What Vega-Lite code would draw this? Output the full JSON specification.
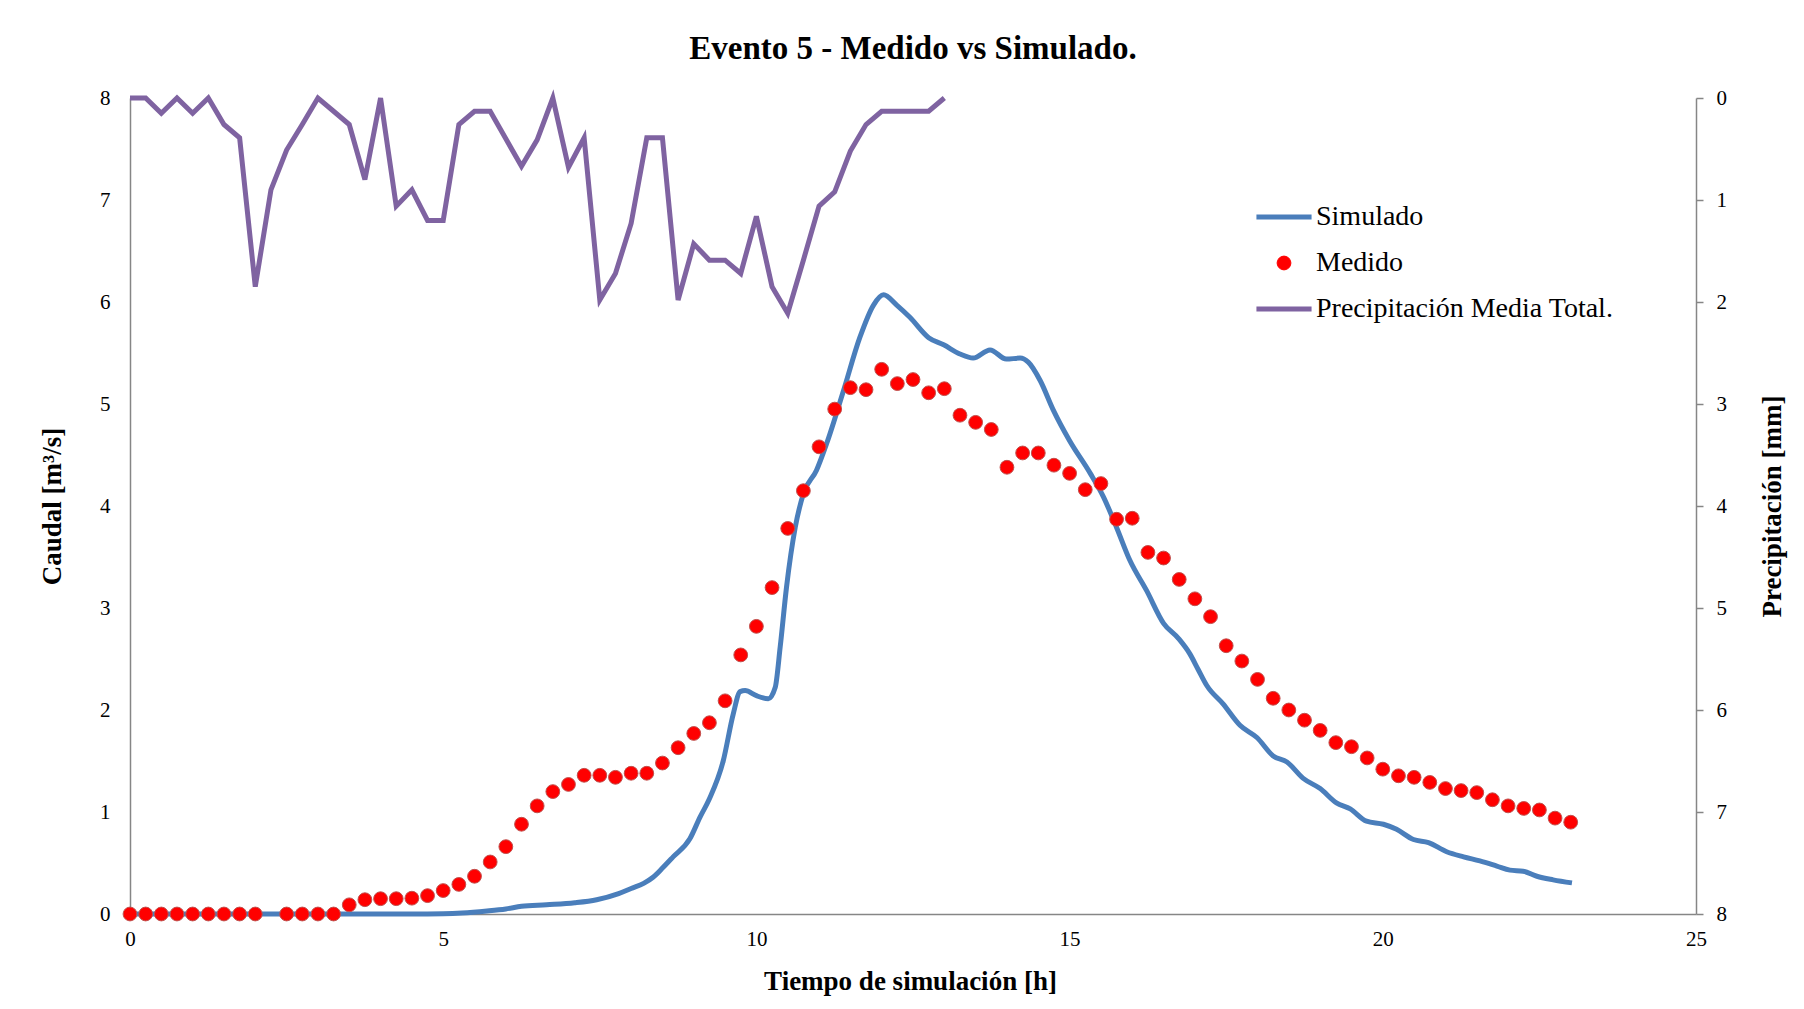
{
  "$schema": "https://vega.github.io/schema/vega-lite/v6.json",
  "width": 1566,
  "height": 816,
  "autosize": {"type": "none"},
  "padding": {"left": 130, "top": 98, "right": 108, "bottom": 95},
  "background": "white",
  "config": {
    "view": {"stroke": null},
    "font": "Liberation Serif"
  },
  "title": {
    "text": "Evento 5 - Medido vs Simulado.",
    "font": "Liberation Serif",
    "fontSize": 33,
    "fontWeight": "bold",
    "color": "black",
    "anchor": "middle",
    "frame": "group",
    "baseline": "alphabetic",
    "offset": 38,
    "dy": 43
  },
  "datasets": {
    "sim": [
      {"t": 0, "q": 0}, {"t": 1, "q": 0}, {"t": 2, "q": 0}, {"t": 3, "q": 0}, {"t": 4, "q": 0}, {"t": 4.5, "q": 0},
      {"t": 5.0, "q": 0.003}, {"t": 5.3, "q": 0.01}, {"t": 5.7, "q": 0.03}, {"t": 6.0, "q": 0.05}, {"t": 6.25, "q": 0.075},
      {"t": 6.65, "q": 0.09}, {"t": 7.1, "q": 0.11}, {"t": 7.45, "q": 0.14}, {"t": 7.8, "q": 0.2}, {"t": 8.0, "q": 0.25},
      {"t": 8.2, "q": 0.3}, {"t": 8.35, "q": 0.36}, {"t": 8.5, "q": 0.45}, {"t": 8.67, "q": 0.56}, {"t": 8.94, "q": 0.74},
      {"t": 9.1, "q": 0.95}, {"t": 9.25, "q": 1.13}, {"t": 9.47, "q": 1.5}, {"t": 9.63, "q": 1.96}, {"t": 9.74, "q": 2.18},
      {"t": 9.82, "q": 2.19}, {"t": 10.0, "q": 2.14}, {"t": 10.19, "q": 2.11}, {"t": 10.3, "q": 2.22}, {"t": 10.38, "q": 2.62},
      {"t": 10.48, "q": 3.2}, {"t": 10.62, "q": 3.79}, {"t": 10.75, "q": 4.12}, {"t": 10.96, "q": 4.35}, {"t": 11.12, "q": 4.61},
      {"t": 11.39, "q": 5.13}, {"t": 11.65, "q": 5.65}, {"t": 11.87, "q": 5.97}, {"t": 12.03, "q": 6.07}, {"t": 12.24, "q": 5.97},
      {"t": 12.45, "q": 5.85}, {"t": 12.75, "q": 5.65}, {"t": 12.99, "q": 5.58}, {"t": 13.25, "q": 5.49}, {"t": 13.46, "q": 5.45},
      {"t": 13.73, "q": 5.53}, {"t": 13.99, "q": 5.44}, {"t": 14.21, "q": 5.45}, {"t": 14.34, "q": 5.41}, {"t": 14.53, "q": 5.23},
      {"t": 14.74, "q": 4.94}, {"t": 15.0, "q": 4.64}, {"t": 15.33, "q": 4.32}, {"t": 15.54, "q": 4.09}, {"t": 15.75, "q": 3.79},
      {"t": 15.96, "q": 3.47}, {"t": 16.23, "q": 3.17}, {"t": 16.5, "q": 2.85}, {"t": 16.74, "q": 2.7}, {"t": 16.92, "q": 2.55},
      {"t": 17.05, "q": 2.4}, {"t": 17.19, "q": 2.24}, {"t": 17.45, "q": 2.06}, {"t": 17.72, "q": 1.85}, {"t": 17.99, "q": 1.73},
      {"t": 18.25, "q": 1.55}, {"t": 18.47, "q": 1.49}, {"t": 18.73, "q": 1.33}, {"t": 19.0, "q": 1.23}, {"t": 19.26, "q": 1.09},
      {"t": 19.48, "q": 1.03}, {"t": 19.74, "q": 0.91}, {"t": 20.01, "q": 0.88}, {"t": 20.22, "q": 0.83}, {"t": 20.49, "q": 0.73},
      {"t": 20.73, "q": 0.7}, {"t": 21.02, "q": 0.61}, {"t": 21.29, "q": 0.56}, {"t": 21.55, "q": 0.52}, {"t": 21.82, "q": 0.47},
      {"t": 22.03, "q": 0.43}, {"t": 22.24, "q": 0.42}, {"t": 22.46, "q": 0.37}, {"t": 22.72, "q": 0.335}, {"t": 23.02, "q": 0.305}
    ],
    "med": [
      {"t": 0, "q": 0}, {"t": 0.25, "q": 0}, {"t": 0.5, "q": 0}, {"t": 0.75, "q": 0}, {"t": 1.0, "q": 0}, {"t": 1.25, "q": 0},
      {"t": 1.5, "q": 0}, {"t": 1.75, "q": 0}, {"t": 2.0, "q": 0}, {"t": 2.5, "q": 0}, {"t": 2.75, "q": 0}, {"t": 3.0, "q": 0},
      {"t": 3.25, "q": 0}, {"t": 3.5, "q": 0.09}, {"t": 3.75, "q": 0.14}, {"t": 4.0, "q": 0.15}, {"t": 4.25, "q": 0.15},
      {"t": 4.5, "q": 0.155}, {"t": 4.75, "q": 0.18}, {"t": 5.0, "q": 0.23}, {"t": 5.25, "q": 0.29}, {"t": 5.5, "q": 0.37},
      {"t": 5.75, "q": 0.51}, {"t": 6.0, "q": 0.66}, {"t": 6.25, "q": 0.88}, {"t": 6.5, "q": 1.06}, {"t": 6.75, "q": 1.2},
      {"t": 7.0, "q": 1.27}, {"t": 7.25, "q": 1.36}, {"t": 7.5, "q": 1.36}, {"t": 7.75, "q": 1.34}, {"t": 8.0, "q": 1.38},
      {"t": 8.25, "q": 1.38}, {"t": 8.5, "q": 1.48}, {"t": 8.75, "q": 1.63}, {"t": 9.0, "q": 1.77}, {"t": 9.25, "q": 1.875},
      {"t": 9.5, "q": 2.09}, {"t": 9.75, "q": 2.54}, {"t": 10.0, "q": 2.82}, {"t": 10.25, "q": 3.2}, {"t": 10.5, "q": 3.78},
      {"t": 10.75, "q": 4.15}, {"t": 11.0, "q": 4.58}, {"t": 11.25, "q": 4.95}, {"t": 11.5, "q": 5.16}, {"t": 11.75, "q": 5.14},
      {"t": 12.0, "q": 5.34}, {"t": 12.25, "q": 5.2}, {"t": 12.5, "q": 5.24}, {"t": 12.75, "q": 5.11}, {"t": 13.0, "q": 5.15},
      {"t": 13.25, "q": 4.89}, {"t": 13.5, "q": 4.82}, {"t": 13.75, "q": 4.75}, {"t": 14.0, "q": 4.38}, {"t": 14.25, "q": 4.52},
      {"t": 14.5, "q": 4.52}, {"t": 14.75, "q": 4.4}, {"t": 15.0, "q": 4.32}, {"t": 15.25, "q": 4.16}, {"t": 15.5, "q": 4.22},
      {"t": 15.75, "q": 3.87}, {"t": 16.0, "q": 3.88}, {"t": 16.25, "q": 3.545}, {"t": 16.5, "q": 3.49}, {"t": 16.75, "q": 3.28},
      {"t": 17.0, "q": 3.09}, {"t": 17.25, "q": 2.915}, {"t": 17.5, "q": 2.63}, {"t": 17.75, "q": 2.48}, {"t": 18.0, "q": 2.3},
      {"t": 18.25, "q": 2.115}, {"t": 18.5, "q": 2.0}, {"t": 18.75, "q": 1.9}, {"t": 19.0, "q": 1.8}, {"t": 19.25, "q": 1.68},
      {"t": 19.5, "q": 1.64}, {"t": 19.75, "q": 1.53}, {"t": 20.0, "q": 1.42}, {"t": 20.25, "q": 1.355}, {"t": 20.5, "q": 1.34},
      {"t": 20.75, "q": 1.29}, {"t": 21.0, "q": 1.23}, {"t": 21.25, "q": 1.21}, {"t": 21.5, "q": 1.19}, {"t": 21.75, "q": 1.12},
      {"t": 22.0, "q": 1.06}, {"t": 22.25, "q": 1.035}, {"t": 22.5, "q": 1.02}, {"t": 22.75, "q": 0.94}, {"t": 23.0, "q": 0.9}
    ],
    "pp": [
      {"t": 0, "p": 0}, {"t": 0.25, "p": 0}, {"t": 0.5, "p": 0.15}, {"t": 0.75, "p": 0}, {"t": 1.0, "p": 0.15}, {"t": 1.25, "p": 0},
      {"t": 1.5, "p": 0.26}, {"t": 1.75, "p": 0.39}, {"t": 2.0, "p": 1.85}, {"t": 2.25, "p": 0.9}, {"t": 2.5, "p": 0.51},
      {"t": 2.75, "p": 0.26}, {"t": 3.0, "p": 0}, {"t": 3.25, "p": 0.13}, {"t": 3.5, "p": 0.26}, {"t": 3.75, "p": 0.8},
      {"t": 4.0, "p": 0}, {"t": 4.25, "p": 1.06}, {"t": 4.5, "p": 0.9}, {"t": 4.75, "p": 1.2}, {"t": 5.0, "p": 1.2},
      {"t": 5.25, "p": 0.26}, {"t": 5.5, "p": 0.13}, {"t": 5.75, "p": 0.13}, {"t": 6.0, "p": 0.4}, {"t": 6.25, "p": 0.67},
      {"t": 6.5, "p": 0.41}, {"t": 6.75, "p": 0}, {"t": 7.0, "p": 0.68}, {"t": 7.25, "p": 0.39}, {"t": 7.5, "p": 1.98},
      {"t": 7.75, "p": 1.72}, {"t": 8.0, "p": 1.23}, {"t": 8.25, "p": 0.39}, {"t": 8.5, "p": 0.39}, {"t": 8.75, "p": 1.98},
      {"t": 9.0, "p": 1.43}, {"t": 9.25, "p": 1.59}, {"t": 9.5, "p": 1.59}, {"t": 9.75, "p": 1.72}, {"t": 10.0, "p": 1.16},
      {"t": 10.25, "p": 1.85}, {"t": 10.5, "p": 2.11}, {"t": 10.75, "p": 1.59}, {"t": 11.0, "p": 1.06}, {"t": 11.25, "p": 0.92},
      {"t": 11.5, "p": 0.52}, {"t": 11.75, "p": 0.26}, {"t": 12.0, "p": 0.13}, {"t": 12.25, "p": 0.13}, {"t": 12.5, "p": 0.13},
      {"t": 12.75, "p": 0.13}, {"t": 13.0, "p": 0}
    ]
  },
  "layer": [
    {
      "layer": [
        {
          "data": {"name": "sim"},
          "mark": {"type": "line", "strokeWidth": 5, "interpolate": "monotone"},
          "encoding": {
            "x": {
              "field": "t", "type": "quantitative",
              "scale": {"domain": [0, 25], "nice": false, "zero": false},
              "title": "Tiempo de simulación [h]",
              "axis": {
                "values": [0, 5, 10, 15, 20, 25], "format": "d",
                "grid": false, "ticks": false, "tickSize": 0,
                "domainColor": "#868686", "domainWidth": 1.5,
                "labelFont": "Liberation Serif", "labelFontSize": 21, "labelColor": "black",
                "labelPadding": 14, "labelFlush": false,
                "titleFont": "Liberation Serif", "titleFontSize": 27, "titleFontWeight": "bold", "titleColor": "black",
                "titleBaseline": "alphabetic", "titleY": 75, "titleX": 780, "titleAlign": "center"
              }
            },
            "y": {
              "field": "q", "type": "quantitative",
              "scale": {"domain": [0, 8], "nice": false},
              "title": "Caudal [m³/s]",
              "axis": {
                "values": [0, 1, 2, 3, 4, 5, 6, 7, 8], "format": "d",
                "grid": false, "ticks": false, "tickSize": 0,
                "domainColor": "#868686", "domainWidth": 1.5,
                "labelFont": "Liberation Serif", "labelFontSize": 21, "labelColor": "black",
                "labelPadding": 20,
                "titleFont": "Liberation Serif", "titleFontSize": 27, "titleFontWeight": "bold", "titleColor": "black",
                "titleAngle": -90, "titleBaseline": "alphabetic", "titleAlign": "center", "titleX": -70, "titleY": 408
              }
            },
            "color": {
              "datum": "Simulado", "type": "nominal",
              "scale": {
                "domain": ["Simulado", "Medido", "Precipitación Media Total."],
                "range": ["#4A7EBB", "#FF0000", "#7F63A1"]
              },
              "legend": {
                "title": null,
                "orient": "none",
                "legendX": 1140,
                "legendY": 105,
                "padding": 0,
                "symbolType": "M-4,0L4,0",
                "symbolSize": 180,
                "symbolStrokeWidth": 5,
                "labelFont": "Liberation Serif",
                "labelFontSize": 28,
                "labelColor": "black",
                "labelOffset": 18,
                "rowPadding": 18,
                "labelLimit": 600,
                "encode": {
                  "symbols": {
                    "update": {
                      "shape": {"signal": "datum.value === 'Medido' ? 'circle' : 'M-4,0L4,0'"},
                      "fill": {"signal": "datum.value === 'Medido' ? '#FF0000' : 'transparent'"},
                      "stroke": {"signal": "datum.value === 'Medido' ? '#C0504D' : (datum.value === 'Simulado' ? '#4A7EBB' : '#7F63A1')"},
                      "strokeWidth": {"signal": "datum.value === 'Medido' ? 1 : 5"},
                      "size": {"value": 190},
                      "opacity": {"value": 1},
                      "fillOpacity": {"value": 1},
                      "strokeOpacity": {"value": 1}
                    }
                  }
                }
              }
            }
          }
        },
        {
          "data": {"name": "med"},
          "mark": {"type": "point", "filled": true, "size": 190, "opacity": 1, "stroke": "#C0504D", "strokeWidth": 1},
          "encoding": {
            "x": {"field": "t", "type": "quantitative", "title": "Tiempo de simulación [h]"},
            "y": {"field": "q", "type": "quantitative", "title": "Caudal [m³/s]"},
            "color": {"datum": "Medido", "type": "nominal"}
          }
        }
      ]
    },
    {
      "data": {"name": "pp"},
      "mark": {"type": "line", "strokeWidth": 5},
      "encoding": {
        "x": {"field": "t", "type": "quantitative", "title": "Tiempo de simulación [h]"},
        "y": {
          "field": "p", "type": "quantitative",
          "scale": {"domain": [0, 8], "reverse": true, "nice": false},
          "title": "Precipitación [mm]",
          "axis": {
            "orient": "right",
            "values": [0, 1, 2, 3, 4, 5, 6, 7, 8], "format": "d",
            "grid": false, "ticks": true, "tickSize": 7, "tickColor": "#868686", "tickWidth": 1.5,
            "domainColor": "#868686", "domainWidth": 1.5,
            "labelFont": "Liberation Serif", "labelFontSize": 21, "labelColor": "black",
            "labelPadding": 13,
            "titleFont": "Liberation Serif", "titleFontSize": 27, "titleFontWeight": "bold", "titleColor": "black",
            "titleAngle": -90, "titleBaseline": "alphabetic", "titleAlign": "center", "titleX": 84, "titleY": 408
          }
        },
        "color": {"datum": "Precipitación Media Total.", "type": "nominal"}
      }
    }
  ],
  "resolve": {"scale": {"y": "independent"}}
}
